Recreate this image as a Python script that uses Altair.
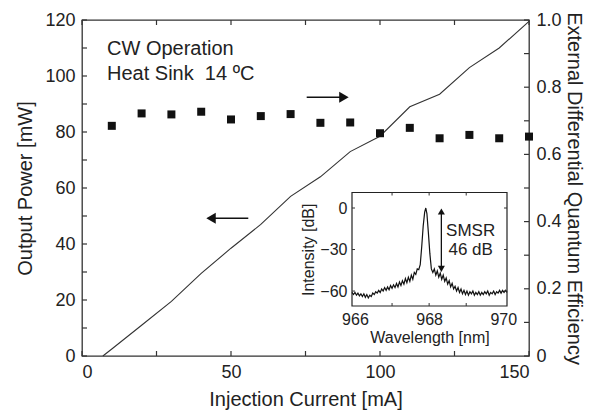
import altair as alt
import pandas as pd

# ---------------- data ----------------
current_line = [7, 10, 20, 30, 40, 50, 60, 70, 80, 90, 100, 110, 120, 130, 140, 150]
power_line = [0, 2.5, 11, 19.5, 29.5, 38.5, 47, 57, 64, 73, 78.5, 89, 93.5, 103, 110, 119.5]

current_pts = [10, 20, 30, 40, 50, 60, 70, 80, 90, 100, 110, 120, 130, 140, 150]
efficiency = [0.685, 0.722, 0.719, 0.727, 0.704, 0.714, 0.720, 0.694, 0.695,
              0.663, 0.679, 0.648, 0.658, 0.648, 0.653]

wavelength = [965.92, 965.96, 966.00, 966.04, 966.08, 966.12, 966.16, 966.20, 966.24, 966.28,
              966.32, 966.36, 966.40, 966.44, 966.48, 966.52, 966.56, 966.60, 966.64, 966.68,
              966.72, 966.76, 966.80, 966.84, 966.88, 966.92, 966.96, 967.00, 967.04, 967.08,
              967.12, 967.16, 967.20, 967.24, 967.28, 967.32, 967.36, 967.40, 967.44, 967.48,
              967.52, 967.56, 967.60, 967.64, 967.68, 967.72, 967.76, 967.80, 967.84, 967.88,
              967.91, 967.94, 967.98, 968.02, 968.06, 968.10, 968.14, 968.18, 968.22, 968.26,
              968.30, 968.34, 968.38, 968.42, 968.46, 968.50, 968.54, 968.58, 968.62, 968.66,
              968.70, 968.74, 968.78, 968.82, 968.86, 968.90, 968.94, 968.98, 969.02, 969.06,
              969.10, 969.14, 969.18, 969.22, 969.26, 969.30, 969.34, 969.38, 969.42, 969.46,
              969.50, 969.54, 969.58, 969.62, 969.66, 969.70, 969.74, 969.78, 969.82, 969.86,
              969.90, 969.94, 969.98, 970.02, 970.06, 970.10]
intensity = [-61, -62.5, -61, -63, -61.5, -63.5, -62, -64, -62, -64.5,
             -62.5, -65, -63, -64, -61.5, -62.5, -60.5, -61.5, -59.5, -61,
             -58.5, -60, -57.5, -59.5, -57, -59, -56, -58, -55.5, -57.5,
             -54.5, -57, -53.5, -56, -52.5, -55, -51, -54, -50, -53,
             -48.5, -51.5, -46.5, -48, -44, -44.5, -41, -28, -13, -3,
             0, -4, -18, -33, -44, -46.5, -44, -48.5, -45.5, -50,
             -47, -51.5, -48.5, -53, -50.5, -55, -52.5, -57, -54.5, -58.5,
             -56.5, -60, -57.5, -61, -58.5, -62, -59.5, -62.5, -60, -63,
             -60.5, -62, -60, -63, -61, -62.5, -60.5, -63, -61, -62.5,
             -60.5, -62, -60, -63, -61, -62, -60, -62.5, -60.5, -61.5,
             -59.5, -61.5, -59.5, -61, -59.5, -61]

x_ticks = [0, 25, 50, 75, 100, 125, 150]
x_labels = [0, 50, 100, 150]
p_ticks = [0, 10, 20, 30, 40, 50, 60, 70, 80, 90, 100, 110, 120]
p_labels = [0, 20, 40, 60, 80, 100, 120]
e_ticks = [0, 0.1, 0.2, 0.3, 0.4, 0.5, 0.6, 0.7, 0.8, 0.9, 1.0]
e_labels = [0, 0.2, 0.4, 0.6, 0.8, 1.0]
w_labels = [966, 968, 970]
w_ticks = [967, 968, 969]
i_labels = [0, -30, -60]

notes_text = ["CW Operation", "Heat Sink \u00a014 \u00baC"]
notes_current = [8.4, 8.4]
notes_power = [109.5, 100.8]

# ---------------- layout / style ----------------
W, H = 447, 336
PL, PT = 74, 12
PR = 577 - PL - W          # keep the page from getting wider than the window
PB = 415 - 8 - PT - H
IX0, IX1, IY0, IY1 = 270, 425, 172.5, 286
FONT = "Liberation Sans"
INK = "#222222"

xs = alt.Scale(domain=[0, 150], nice=False, zero=False)
yp = alt.Scale(domain=[0, 120], nice=False, zero=False)
ye = alt.Scale(domain=[0, 1], nice=False, zero=False)
xw = alt.Scale(domain=[965.92, 970.10], range=[IX0, IX1], nice=False, zero=False)
yi = alt.Scale(domain=[-70.8, 11.2], range=[IY1, IY0], nice=False, zero=False)

ax_common = dict(grid=False, ticks=False, domain=False, labelFont=FONT, titleFont=FONT,
                 labelColor=INK, titleColor=INK, titleFontWeight="normal")

df_line = pd.DataFrame({"current": current_line, "power": power_line})
df_pts = pd.DataFrame({"current": current_pts, "eff": efficiency})
df_spec = pd.DataFrame({"wl": wavelength, "db": intensity})

power = alt.Chart(df_line).mark_line(color="#333333", strokeWidth=1.1).encode(
    x=alt.X("current:Q", scale=xs,
            axis=alt.Axis(values=x_labels, title="Injection Current [mA]", labelFontSize=18,
                          titleFontSize=20, labelPadding=7, titlePadding=8, orient="bottom",
                          **ax_common)),
    y=alt.Y("power:Q", scale=yp,
            axis=alt.Axis(values=p_labels, title="Output Power [mW]", labelFontSize=18,
                          titleFontSize=20, labelPadding=7, titlePadding=9, orient="left",
                          **ax_common)),
)

squares = alt.Chart(df_pts).mark_point(shape="square", filled=True, size=64, color="#111111",
                                       opacity=1).encode(
    x=alt.X("current:Q", scale=xs, axis=None),
    y=alt.Y("eff:Q", scale=ye,
            axis=alt.Axis(values=e_labels, title="External Differential Quantum Efficiency",
                          labelFontSize=18, titleFontSize=20, labelPadding=7, titlePadding=2,
                          orient="right",
                          labelExpr="datum.value == 0 ? '0' : format(datum.value, '.1f')",
                          **ax_common)),
)

tick_x_df = pd.DataFrame({"v": x_ticks})
tick_p_df = pd.DataFrame({"v": p_ticks})
tick_e_df = pd.DataFrame({"v": e_ticks})

tick_style = dict(color="#333333", strokeWidth=1.2)
bottom_ticks = alt.Chart(tick_x_df).mark_rule(**tick_style).encode(
    x=alt.X("v:Q", scale=xs, axis=None), y=alt.value(H), y2=alt.value(H - 5))
top_ticks = alt.Chart(tick_x_df).mark_rule(**tick_style).encode(
    x=alt.X("v:Q", scale=xs, axis=None), y=alt.value(0), y2=alt.value(5))
left_ticks = alt.Chart(tick_p_df).mark_rule(**tick_style).encode(
    y=alt.Y("v:Q", scale=yp, axis=None), x=alt.value(0), x2=alt.value(5))
right_ticks = alt.Chart(tick_e_df).mark_rule(**tick_style).encode(
    y=alt.Y("v:Q", scale=ye, axis=None), x=alt.value(W), x2=alt.value(W - 5))

notes = alt.Chart(pd.DataFrame({"current": notes_current, "power": notes_power,
                                "t": notes_text})).mark_text(
    align="left", baseline="middle", font=FONT, fontSize=20, color=INK).encode(
    x=alt.X("current:Q", scale=xs, axis=None),
    y=alt.Y("power:Q", scale=yp, axis=None),
    text="t:N")

# arrows pointing to the relevant axis
arrow_df = pd.DataFrame({"a": [75.4, 55.8], "b": [87.9, 43.3], "p": [92.4, 49.2],
                         "shape": ["triangle-right", "triangle-left"]})
arrow_shafts = alt.Chart(arrow_df).mark_rule(color="#111111", strokeWidth=1.5).encode(
    x=alt.X("a:Q", scale=xs, axis=None), x2="b:Q",
    y=alt.Y("p:Q", scale=yp, axis=None))
arrow_heads = alt.Chart(arrow_df).mark_point(filled=True, size=120, color="#111111",
                                             opacity=1).encode(
    x=alt.X("b:Q", scale=xs, axis=None),
    y=alt.Y("p:Q", scale=yp, axis=None),
    shape=alt.Shape("shape:N", scale=None, legend=None))

# ---------------- inset ----------------
inset_box = alt.Chart(pd.DataFrame({"k": [0]})).mark_rect(
    fill="white", stroke="#222222", strokeWidth=1.2).encode(
    x=alt.value(IX0), x2=alt.value(IX1), y=alt.value(IY0), y2=alt.value(IY1))

inset_common = dict(grid=False, ticks=False, domain=False, labelFont=FONT, titleFont=FONT,
                    labelColor=INK, titleColor=INK, titleFontWeight="normal")

spectrum = alt.Chart(df_spec).mark_line(color="#111111", strokeWidth=1.2).encode(
    x=alt.X("wl:Q", scale=xw,
            axis=alt.Axis(values=w_labels, title="Wavelength [nm]", orient="bottom",
                          offset=-(H - IY1), labelFontSize=16, titleFontSize=16,
                          labelPadding=5, titlePadding=2, **inset_common)),
    y=alt.Y("db:Q", scale=yi,
            axis=alt.Axis(values=i_labels, title="Intensity [dB]", orient="left",
                          offset=-IX0, labelFontSize=16, titleFontSize=16,
                          labelPadding=5, titlePadding=3, **inset_common)),
)

w_tick_df = pd.DataFrame({"v": w_ticks})
i_tick_df = pd.DataFrame({"v": i_labels})
inset_ticks = [
    alt.Chart(w_tick_df).mark_rule(color="#333333").encode(
        x=alt.X("v:Q", scale=xw, axis=None), y=alt.value(IY1), y2=alt.value(IY1 - 3)),
    alt.Chart(w_tick_df).mark_rule(color="#333333").encode(
        x=alt.X("v:Q", scale=xw, axis=None), y=alt.value(IY0), y2=alt.value(IY0 + 3)),
    alt.Chart(i_tick_df).mark_rule(color="#333333").encode(
        y=alt.Y("v:Q", scale=yi, axis=None), x=alt.value(IX0), x2=alt.value(IX0 + 3)),
    alt.Chart(i_tick_df).mark_rule(color="#333333").encode(
        y=alt.Y("v:Q", scale=yi, axis=None), x=alt.value(IX1), x2=alt.value(IX1 - 3)),
]

smsr_df = pd.DataFrame({"wl": [968.33], "top": [-2.5], "bot": [-44.0]})
smsr_shaft = alt.Chart(smsr_df).mark_rule(color="#111111", strokeWidth=1.3).encode(
    x=alt.X("wl:Q", scale=xw, axis=None),
    y=alt.Y("top:Q", scale=yi, axis=None), y2="bot:Q")
smsr_up = alt.Chart(smsr_df).mark_point(shape="triangle-up", filled=True, size=50,
                                        color="#111111", opacity=1).encode(
    x=alt.X("wl:Q", scale=xw, axis=None), y=alt.Y("top:Q", scale=yi, axis=None))
smsr_down = alt.Chart(smsr_df).mark_point(shape="triangle-down", filled=True, size=50,
                                          color="#111111", opacity=1).encode(
    x=alt.X("wl:Q", scale=xw, axis=None), y=alt.Y("bot:Q", scale=yi, axis=None))
smsr_text = alt.Chart(pd.DataFrame({"wl": [969.12, 969.12], "db": [-16.6, -30.4],
                                    "t": ["SMSR", "46 dB"]})).mark_text(
    align="center", baseline="middle", font=FONT, fontSize=17, color=INK).encode(
    x=alt.X("wl:Q", scale=xw, axis=None),
    y=alt.Y("db:Q", scale=yi, axis=None),
    text="t:N")

chart = alt.layer(
    power, squares, bottom_ticks, top_ticks, left_ticks, right_ticks, notes,
    arrow_shafts, arrow_heads, inset_box, spectrum, *inset_ticks,
    smsr_shaft, smsr_up, smsr_down, smsr_text,
).resolve_scale(x="independent", y="independent").properties(
    width=W, height=H,
    padding={"left": PL, "top": PT, "right": PR, "bottom": PB},
    autosize=alt.AutoSizeParams(type="none"),
    background="white",
).configure_view(stroke="#333333", strokeWidth=1.3)

chart.save("out.html", embed_options={"renderer": "svg", "actions": False})
